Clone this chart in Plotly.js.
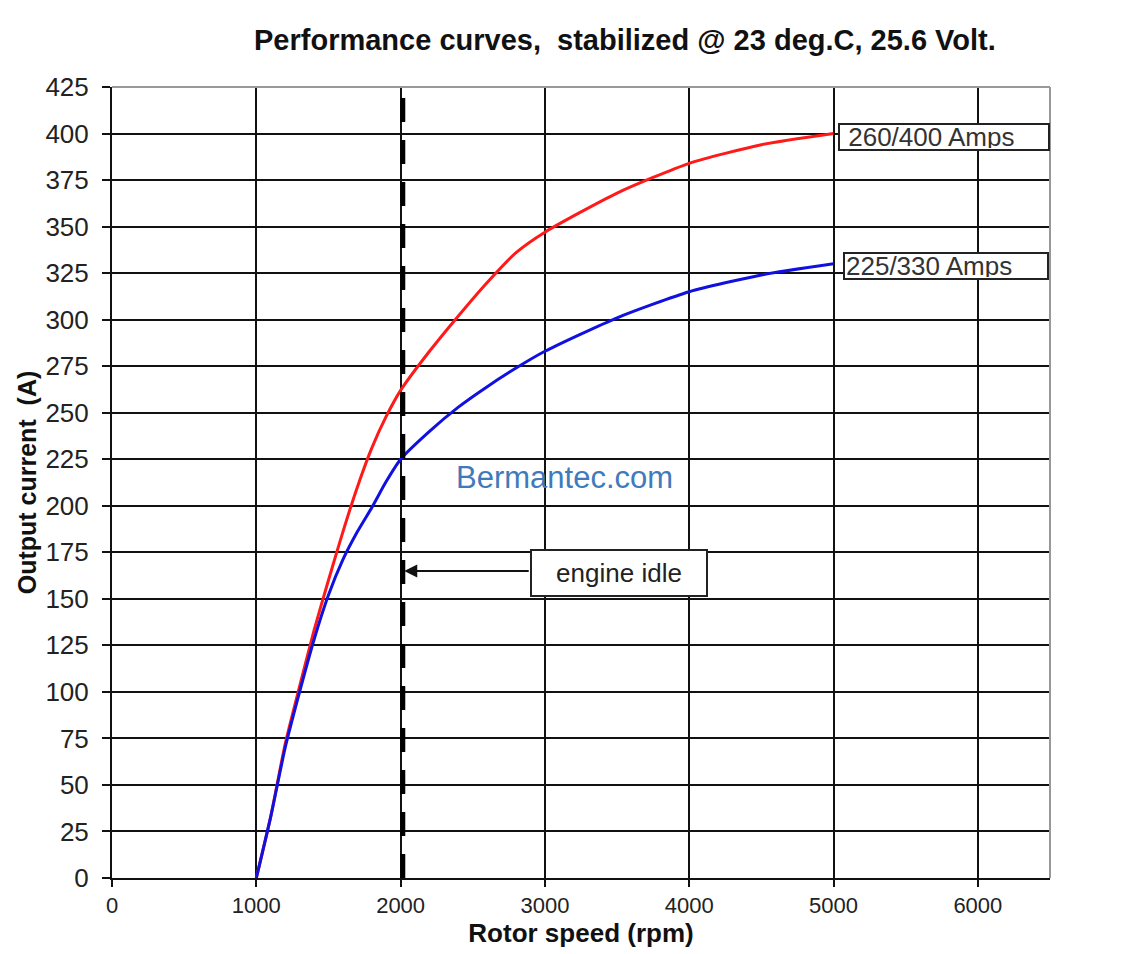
<!DOCTYPE html>
<html>
<head>
<meta charset="utf-8">
<script src="https://cdn.plot.ly/plotly-3.0.1.min.js"></script>
<style>
  body { margin: 0; background: #fff; }
  #chart { width: 1128px; height: 954px; }
</style>
</head>
<body>
<div id="chart"></div>
<script>
// values (rpm vs amps)
var rpm = [1000, 1100, 1200, 1300, 1400, 1500, 1600, 1700, 1800, 1900, 2000,
           2200, 2400, 2600, 2800, 3000, 3500, 4000, 4500, 5000];
var amps400 = [0, 33, 72, 103, 133, 160, 186, 210, 231, 248, 262,
               283, 302, 320, 336, 347, 368, 384, 394, 400];
var amps330 = [0, 33, 70, 100, 128, 152, 171, 186, 199, 213, 225,
               240, 253, 264, 274, 283, 301, 315, 324, 330];
var idleRpm = 2000;
var idleAmps = 165;
var xTicks = [0, 1000, 2000, 3000, 4000, 5000, 6000];
var yTicks = [0, 25, 50, 75, 100, 125, 150, 175, 200, 225, 250, 275, 300, 325, 350, 375, 400, 425];

var traceRed = {
    x: rpm,
    y: amps400,
    mode: "lines",
    line: {color: "#ff1a1a", width: 3, shape: "spline", smoothing: 0.6},
    hoverinfo: "x+y"
};
var traceBlue = {
    x: rpm,
    y: amps330,
    mode: "lines",
    line: {color: "#1010e0", width: 3, shape: "spline", smoothing: 0.6},
    hoverinfo: "x+y"
};

var fam = "Arial, Liberation Sans, sans-serif";
var boxFont = {family: fam, size: 26, color: "#333"};

var layout = {
    width: 1128,
    height: 954,
    showlegend: false,
    paper_bgcolor: "#fff",
    plot_bgcolor: "#fff",
    margin: {l: 112, r: 78, t: 87, b: 76},
    title: {
        text: "<b>Performance curves,  stabilized @ 23 deg.C, 25.6 Volt.</b>",
        font: {family: fam, size: 29, color: "#111"},
        x: 0.554, xanchor: "center", y: 0.958, yanchor: "middle"
    },
    xaxis: {
        range: [0, 6500],
        tickvals: xTicks,
        ticktext: xTicks.map(String),
        tickfont: {family: fam, size: 22, color: "#222"},
        showgrid: true, gridcolor: "#111", gridwidth: 2,
        showline: true, linecolor: "#111", linewidth: 2,
        ticks: "outside", ticklen: 7, tickcolor: "#111", tickwidth: 2,
        zeroline: false,
        title: {text: "<b>Rotor speed (rpm)</b>", standoff: 6,
                font: {family: fam, size: 26, color: "#111"}}
    },
    yaxis: {
        range: [0, 425],
        tickvals: yTicks,
        ticktext: yTicks.map(String),
        tickfont: {family: fam, size: 26, color: "#222"},
        ticklabelstandoff: 8,
        showgrid: true, gridcolor: "#111", gridwidth: 2,
        showline: true, linecolor: "#111", linewidth: 2,
        ticks: "outside", ticklen: 8, tickcolor: "#111", tickwidth: 2,
        zeroline: false,
        title: {text: "<b>Output current  (A)</b>", standoff: 2,
                font: {family: fam, size: 25, color: "#111"}}
    },
    shapes: [
        // gray top and right border
        {type: "line", xref: "paper", yref: "paper", x0: 0, x1: 1, y0: 1, y1: 1,
         line: {color: "#999", width: 2}},
        {type: "line", xref: "paper", yref: "paper", x0: 1, x1: 1, y0: 0, y1: 1,
         line: {color: "#999", width: 2}},
        // engine idle dashed line
        {type: "line", xref: "x", yref: "y", x0: idleRpm + 15, x1: idleRpm + 15, y0: 0, y1: 420,
         line: {color: "#000", width: 5, dash: "24px,18px"}}
    ],
    annotations: [
        {x: 5000, y: 400, xref: "x", yref: "y", xanchor: "left", yanchor: "middle",
         text: " 260/400 Amps", showarrow: false, font: boxFont, align: "left",
         bordercolor: "#222", borderwidth: 2, bgcolor: "#fff", borderpad: 1,
         xshift: 4, yshift: -3, width: 206, height: 22},
        {x: 5000, y: 330, xref: "x", yref: "y", xanchor: "left", yanchor: "middle",
         text: "225/330 Amps", showarrow: false, font: boxFont, align: "left",
         bordercolor: "#222", borderwidth: 2, bgcolor: "#fff", borderpad: 1,
         xshift: 9, yshift: -2, width: 200, height: 22},
        {x: idleRpm + 25, y: idleAmps, xref: "x", yref: "y",
         ax: 126, ay: 0, axref: "pixel", ayref: "pixel",
         text: "", showarrow: true, arrowhead: 2, arrowsize: 1.3, arrowwidth: 2,
         arrowcolor: "#111", standoff: 0},
        {x: 3516, y: 164, xref: "x", yref: "y", xanchor: "center", yanchor: "middle",
         text: "engine idle", showarrow: false,
         font: {family: fam, size: 26, color: "#222"},
         bordercolor: "#222", borderwidth: 2, bgcolor: "#fff",
         width: 172, height: 42},
        {x: 3135, y: 215, xref: "x", yref: "y", xanchor: "center", yanchor: "middle",
         text: "Bermantec.com", showarrow: false,
         font: {family: fam, size: 31, color: "#3f7bbb"}}
    ]
};

Plotly.newPlot("chart", [traceRed, traceBlue], layout, {displayModeBar: false, staticPlot: true});
</script>
</body>
</html>
